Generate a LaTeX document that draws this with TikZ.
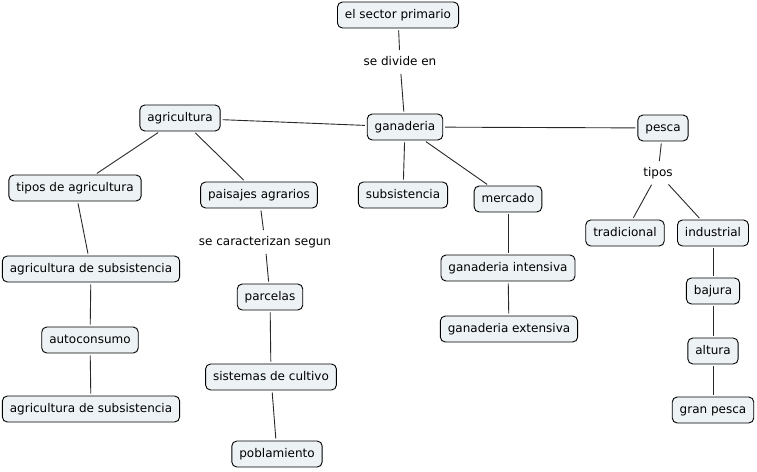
\documentclass[tikz,border=0pt]{standalone}
\usepackage{fontspec}
\setmainfont{DejaVu Sans}
\definecolor{boxfill}{RGB}{237,242,245}
\definecolor{linec}{RGB}{40,40,40}
\begin{document}
\begin{tikzpicture}[x=1pt,y=-1pt,
  concept/.style={draw=black,fill=boxfill,rounded corners=5pt,line width=0.9pt,
    font=\fontsize{12}{14}\selectfont,inner xsep=7.5pt,minimum height=26pt,
    text height=9pt,text depth=2.5pt},
  lbl/.style={font=\fontsize{12}{14}\selectfont,inner sep=4pt,text height=9pt,text depth=2.5pt},
  conn/.style={draw=linec,line width=0.9pt,shorten >=2pt,shorten <=2pt}]
\useasboundingbox (0,0) rectangle (757,471);
\node[concept] (sector) at (398,15) {el sector primario};
\node[lbl] (divide) at (400,62) {se divide en};
\node[concept] (gan) at (405,127) {ganaderia};
\node[concept] (agr) at (180,118) {agricultura};
\node[concept] (pesca) at (663,128) {pesca};
\node[lbl] (tipos) at (658,173) {tipos};
\node[concept] (trad) at (625,233) {tradicional};
\node[concept] (ind) at (713,233) {industrial};
\node[concept] (bajura) at (713,291) {bajura};
\node[concept] (altura) at (713,351) {altura};
\node[concept] (gran) at (713,410) {gran pesca};
\node[concept] (subs) at (403,195) {subsistencia};
\node[concept] (merc) at (508,199) {mercado};
\node[concept] (gint) at (508,268) {ganaderia intensiva};
\node[concept] (gext) at (509,329) {ganaderia extensiva};
\node[concept] (tiposag) at (75,188) {tipos de agricultura};
\node[concept] (paisajes) at (259,195) {paisajes agrarios};
\node[lbl] (caract) at (265,242) {se caracterizan segun};
\node[concept] (parcelas) at (270,297) {parcelas};
\node[concept] (sistemas) at (271,377) {sistemas de cultivo};
\node[concept] (pobl) at (277,454) {poblamiento};
\node[concept] (as1) at (91,269) {agricultura de subsistencia};
\node[concept] (auto) at (90,340) {autoconsumo};
\node[concept] (as2) at (91,409) {agricultura de subsistencia};
\draw[conn] (sector) -- (divide);
\draw[conn] (divide) -- (gan);
\draw[conn] (agr) -- (gan);
\draw[conn] (gan) -- (pesca);
\draw[conn] (agr) -- (tiposag);
\draw[conn] (agr) -- (paisajes);
\draw[conn] (gan) -- (subs);
\draw[conn] (gan) -- (merc);
\draw[conn] (merc) -- (gint);
\draw[conn] (gint) -- (gext);
\draw[conn] (pesca) -- (tipos);
\draw[conn] (tipos) -- (trad);
\draw[conn] (tipos) -- (ind);
\draw[conn] (ind) -- (bajura);
\draw[conn] (bajura) -- (altura);
\draw[conn] (altura) -- (gran);
\draw[conn] (tiposag) -- (as1);
\draw[conn] (as1) -- (auto);
\draw[conn] (auto) -- (as2);
\draw[conn] (paisajes) -- (caract);
\draw[conn] (caract) -- (parcelas);
\draw[conn] (parcelas) -- (sistemas);
\draw[conn] (sistemas) -- (pobl);
\end{tikzpicture}
\end{document}
